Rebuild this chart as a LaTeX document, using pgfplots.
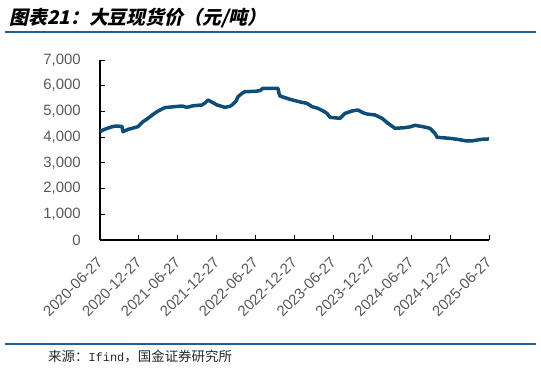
\documentclass[border=0pt]{standalone}
\usepackage{pgfplots}
\pgfplotsset{compat=1.18}
\usepackage{fontspec}
\setmainfont{Liberation Sans}
\newfontfamily\cjk{Noto Sans CJK SC}
\newfontfamily\monof{Liberation Mono}
\newfontfamily\cjkt{Noto Sans CJK SC}[FakeSlant=0.22]
\definecolor{linec}{RGB}{14,78,118}
\definecolor{rulec}{RGB}{31,92,153}
\definecolor{tickgray}{RGB}{89,89,89}
\begin{document}
\begin{tikzpicture}[x=1bp,y=1bp]
\useasboundingbox (-100,-133) rectangle (441,240);
\node[anchor=west, inner sep=0pt] at (-91,222) {\cjkt\bfseries\fontsize{19}{22}\selectfont 图表21：大豆现货价（元/吨）};
\draw[rulec, line width=1.5bp] (-95,208) -- (436,208);
\draw[rulec, line width=1.5bp] (-95,-104) -- (436,-104);
\node[anchor=west, inner sep=0pt, text=black!85] at (-52,-117) {\cjk\fontsize{13.5}{15}\selectfont 来源：{\monof\fontsize{12}{15}\selectfont Ifind}，国金证券研究所};
\begin{axis}[
  at={(0,0)}, anchor=south west,
  scale only axis, width=389bp, height=180bp,
  xmin=0, xmax=60, ymin=0, ymax=7000,
  axis lines=left,
  axis line style={black, line width=1.5bp, -},
  xtick={0,6,...,60},
  xticklabels={2020-06-27,2020-12-27,2021-06-27,2021-12-27,2022-06-27,2022-12-27,2023-06-27,2023-12-27,2024-06-27,2024-12-27,2025-06-27},
  ytick={0,1000,...,7000},
  /pgf/number format/assume math mode=true,
  /pgf/number format/1000 sep={,},
  tick align=inside,
  major tick length=5bp,
  tick style={black, line width=1bp},
  tick label style={font=\fontsize{15}{17}\selectfont, text=tickgray},
  yticklabel style={inner sep=0pt, anchor=east, xshift=-19bp},
  xticklabel style={inner sep=0pt, yshift=-20bp, rotate=45, anchor=east},
  clip=false,
]
\addplot[linec, line width=3.5bp, line join=round] coordinates {
(0,4212) (0.46,4280) (1.54,4380) (2.3,4430) (3.39,4420) (3.55,4212)
(4.32,4300) (5.85,4407) (6.63,4600) (7.40,4732) (8.17,4880)
(8.79,4990) (9.55,5095) (10.02,5150) (11.50,5185) (12.65,5210)
(13.42,5160) (14.34,5220) (15.72,5251) (16.20,5330) (16.66,5445) (17.27,5360)
(18.05,5251) (19.28,5160) (20.05,5200) (20.36,5251) (20.98,5400) (21.29,5575)
(21.90,5700) (22.37,5770) (23.91,5780) (24.68,5810) (25.14,5900) (27.45,5900)
(27.61,5700) (27.76,5600) (29.31,5470) (30.85,5370) (31.93,5315) (32.70,5185)
(33.62,5120) (34.55,5000) (35.01,4925) (35.48,4770) (37.02,4732) (37.79,4925)
(38.87,5017) (39.79,5056) (40.56,4950) (41.18,4900) (42.42,4862) (43.50,4732)
(44.42,4538) (45.50,4344) (47.04,4368) (47.81,4400) (48.58,4460) (49.82,4407)
(50.90,4344) (51.67,4150) (51.98,3995) (53.90,3955) (55.06,3917) (56.60,3850)
(57.37,3855) (58.92,3917) (60,3930)
};
\end{axis}
\end{tikzpicture}
\end{document}
